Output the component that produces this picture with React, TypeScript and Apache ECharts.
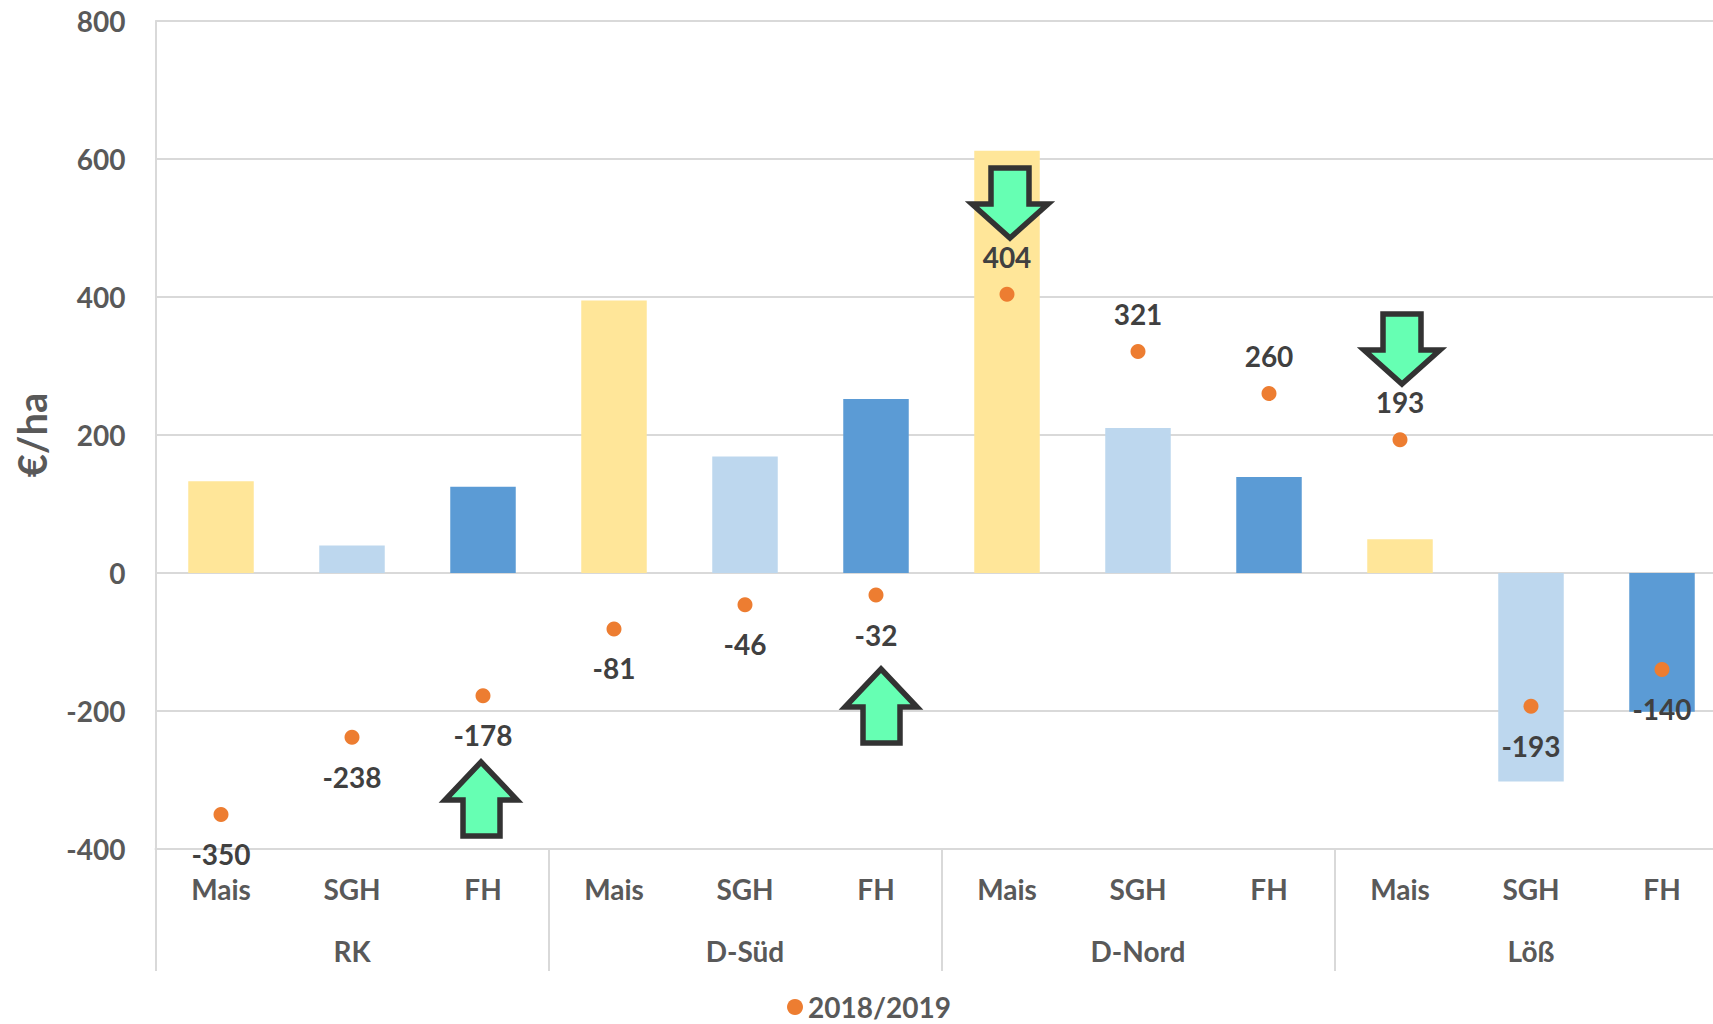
import React, { useEffect, useRef } from "react";
import * as echarts from "echarts";

const crops = ["Mais", "SGH", "FH", "Mais", "SGH", "FH", "Mais", "SGH", "FH", "Mais", "SGH", "FH"];
const regions = ["RK", "D-Süd", "D-Nord", "Löß"];
const barValues = [133, 40, 125, 395, 169, 252, 612, 210, 139, 49, -302, -201];
const pointValues = [-350, -238, -178, -81, -46, -32, 404, 321, 260, 193, -193, -140];
const cropColors = ["#FFE699", "#BDD7EE", "#5B9BD5"];
const yTicks = { min: -400, max: 800, interval: 200 };
const FONT = "Lato, Carlito, sans-serif";

const arrow = (pts: number[][]) => ({
  type: "polygon",
  z: 100,
  shape: { points: pts },
  style: { fill: "#66FFB3", stroke: "#333333", lineWidth: 5.5, lineJoin: "miter", miterLimit: 10 },
});
const upArrow = (dx: number, dy: number) =>
  arrow([
    [481 + dx, 762 + dy],
    [517 + dx, 800 + dy],
    [500 + dx, 800 + dy],
    [500 + dx, 836 + dy],
    [463 + dx, 836 + dy],
    [463 + dx, 800 + dy],
    [445 + dx, 800 + dy],
  ]);
const downArrow = (dx: number, dy: number) =>
  arrow([
    [1010 + dx, 238 + dy],
    [1048 + dx, 204 + dy],
    [1029 + dx, 204 + dy],
    [1029 + dx, 168 + dy],
    [991 + dx, 168 + dy],
    [991 + dx, 204 + dy],
    [972 + dx, 204 + dy],
  ]);

export default function App() {
  const ref = useRef<HTMLDivElement>(null);
  useEffect(() => {
    document.body.style.margin = "0";
    document.body.style.overflow = "hidden";
    const chart = echarts.init(ref.current!, null, { renderer: "svg" });
    chart.setOption({
      animation: false,
      backgroundColor: "#ffffff",
      grid: { left: 155.5, top: 21, width: 1572, height: 828, containLabel: false },
      legend: {
        data: [{ name: "2018/2019", icon: "circle" }],
        left: 787,
        top: 993,
        padding: 0,
        itemWidth: 16,
        itemHeight: 16,
        itemGap: 16,
        textStyle: { fontFamily: FONT, fontWeight: "bold", fontSize: 28, lineHeight: 24, color: "#595959" },
      },
      xAxis: [
        {
          type: "category",
          data: crops,
          position: "bottom",
          axisLine: { onZero: false, lineStyle: { color: "#D9D9D9", width: 2 } },
          axisTick: { show: false },
          axisLabel: {
            interval: 0,
            margin: 26,
            fontFamily: FONT,
            fontWeight: "bold",
            fontSize: 28,
            color: "#595959",
          },
        },
        {
          type: "category",
          data: regions,
          position: "bottom",
          axisLine: { show: false, onZero: false },
          axisTick: { show: true, length: 122, lineStyle: { color: "#D9D9D9", width: 2 } },
          axisLabel: {
            interval: 0,
            margin: 88,
            fontFamily: FONT,
            fontWeight: "bold",
            fontSize: 28,
            color: "#595959",
          },
        },
      ],
      yAxis: {
        type: "value",
        ...yTicks,
        name: "€/ha",
        nameLocation: "middle",
        nameRotate: 90,
        nameGap: 104,
        nameTextStyle: { fontFamily: FONT, fontWeight: "bold", fontSize: 40, color: "#595959" },
        axisLine: { show: true, lineStyle: { color: "#D9D9D9", width: 2 } },
        axisTick: { show: false },
        splitLine: { show: true, lineStyle: { color: "#D9D9D9", width: 2 } },
        axisLabel: { margin: 30, fontFamily: FONT, fontWeight: "bold", fontSize: 28, color: "#595959" },
      },
      series: [
        {
          type: "bar",
          name: "Werte",
          barWidth: "50%",
          data: barValues.map((v, i) => ({ value: v, itemStyle: { color: cropColors[i % 3] } })),
        },
        {
          type: "scatter",
          name: "2018/2019",
          symbol: "circle",
          symbolSize: 15,
          itemStyle: { color: "#ED7D31", opacity: 1 },
          data: pointValues.map((v) => ({
            value: v,
            label: {
              show: true,
              position: v < 0 ? "bottom" : "top",
              distance: v < 0 ? 18 : 16,
              fontFamily: FONT,
              fontWeight: "bold",
              fontSize: 28,
              color: "#404040",
            },
          })),
        },
      ],
      graphic: [upArrow(0, 0), upArrow(400, -93), downArrow(0, 0), downArrow(392, 146)],
    });
    return () => chart.dispose();
  }, []);
  return (
    <div style={{ position: "absolute", left: 0, top: 0, width: 1713, height: 1024, overflow: "hidden" }}>
      <div ref={ref} style={{ width: 1740, height: 1024 }} />
    </div>
  );
}
